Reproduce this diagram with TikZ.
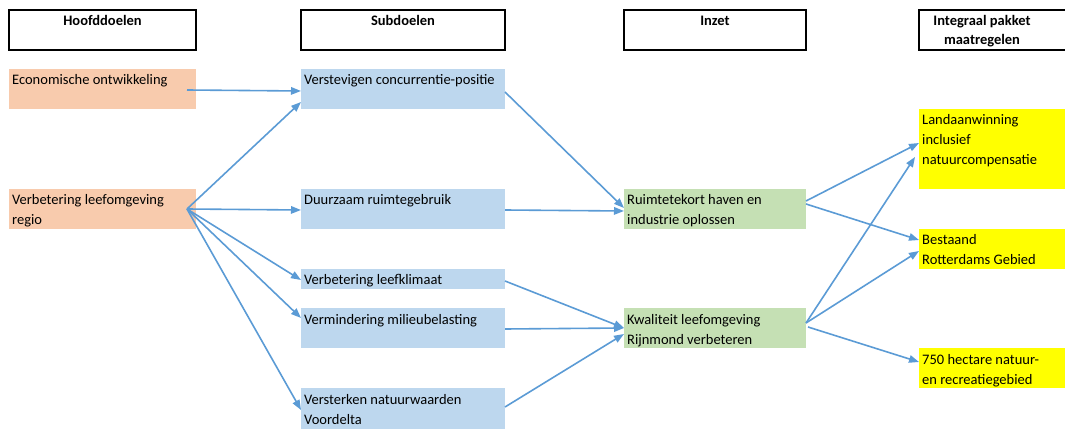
\documentclass[tikz,border=0pt]{standalone}
\usepackage{fontspec}
\setmainfont{Carlito}
\usetikzlibrary{calc,arrows.meta}
\definecolor{orangefill}{HTML}{F8CBAD}
\definecolor{bluefill}{HTML}{BDD7EE}
\definecolor{greenfill}{HTML}{C5E0B4}
\definecolor{yellowfill}{HTML}{FFFF00}
\definecolor{arrowblue}{HTML}{5B9BD5}
\newcommand{\mltxt}[1]{\begin{tabular}[t]{@{}l@{}}#1\end{tabular}}
\tikzset{
  box/.style={rectangle, draw=none, inner sep=0pt, outer sep=0pt, anchor=north west},
  hdr/.style={rectangle, draw=black, line width=1.2pt, fill=white, inner sep=0pt, outer sep=0pt, anchor=north west},
  txt/.style={inner sep=0pt, anchor=base west, font=\fontsize{14.5}{20}\selectfont},
  htxt/.style={inner sep=0pt, anchor=base, font=\fontsize{14.5}{20}\selectfont\bfseries},
  arr/.style={draw=arrowblue, line width=1.6pt, -{Triangle[length=10pt,width=7.5pt]}},
}
\begin{document}
\begin{tikzpicture}[x=1pt,y=-1pt]
\useasboundingbox (0,0) rectangle (1065,430);
\clip (0,0) rectangle (1065,430);
% headers
\node[hdr, minimum width=187pt, minimum height=40pt] (h1) at (9,10) {};
\node[hdr, minimum width=204pt, minimum height=40pt] (h2) at (301,10) {};
\node[hdr, minimum width=182pt, minimum height=40pt] (h3) at (624,10) {};
\node[hdr, minimum width=160pt, minimum height=40pt] (h4) at (919,10) {};
\node[htxt] (h1t) at ($(h1.north)+(0,16)$) {Hoofddoelen};
\node[htxt] (h2t) at ($(h2.north)+(0,16)$) {Subdoelen};
\node[htxt] (h3t) at ($(h3.north)+(0,16)$) {Inzet};
\node[htxt] (h4t) at (982,26) {Integraal pakket};
\node[htxt] (h4u) at (982,45) {maatregelen};
% orange
\node[box, fill=orangefill, minimum width=187pt, minimum height=40pt] (eco) at (9,69) {};
\node[box, fill=orangefill, minimum width=187pt, minimum height=40pt] (reg) at (9,189) {};
% blue
\node[box, fill=bluefill, minimum width=204pt, minimum height=40pt] (ver) at (301,69) {};
\node[box, fill=bluefill, minimum width=204pt, minimum height=40pt] (duu) at (301,189) {};
\node[box, fill=bluefill, minimum width=204pt, minimum height=20pt] (klim) at (301,269) {};
\node[box, fill=bluefill, minimum width=204pt, minimum height=40pt] (mil) at (301,308) {};
\node[box, fill=bluefill, minimum width=204pt, minimum height=41pt] (nat) at (301,388) {};
% green
\node[box, fill=greenfill, minimum width=182pt, minimum height=40pt] (rui) at (624,189) {};
\node[box, fill=greenfill, minimum width=182pt, minimum height=40pt] (kwa) at (624,308) {};
% yellow
\node[box, fill=yellowfill, minimum width=160pt, minimum height=80pt] (land) at (919,109) {};
\node[box, fill=yellowfill, minimum width=160pt, minimum height=40pt] (best) at (919,229) {};
\node[box, fill=yellowfill, minimum width=160pt, minimum height=40pt] (hect) at (919,348) {};
% texts
\node[txt] (ecot) at ($(eco.north west)+(3,16)$) {Economische ontwikkeling};
\node[txt] (regt) at ($(reg.north west)+(3,16)$) {\mltxt{Verbetering leefomgeving\\regio}};
\node[txt] (vert) at ($(ver.north west)+(3,16)$) {Verstevigen concurrentie-positie};
\node[txt] (duut) at ($(duu.north west)+(3,16)$) {Duurzaam ruimtegebruik};
\node[txt] (klimt) at ($(klim.north west)+(3,15)$) {Verbetering leefklimaat};
\node[txt] (milt) at ($(mil.north west)+(3,16)$) {Vermindering milieubelasting};
\node[txt] (natt) at ($(nat.north west)+(3,16)$) {\mltxt{Versterken natuurwaarden\\Voordelta}};
\node[txt] (ruit) at ($(rui.north west)+(3,16)$) {\mltxt{Ruimtetekort haven en\\industrie oplossen}};
\node[txt] (kwat) at ($(kwa.north west)+(3,16)$) {\mltxt{Kwaliteit leefomgeving\\Rijnmond verbeteren}};
\node[txt] (landt) at ($(land.north west)+(3,16)$) {\mltxt{Landaanwinning\\inclusief\\natuurcompensatie}};
\node[txt] (bestt) at ($(best.north west)+(3,16)$) {\mltxt{Bestaand\\Rotterdams Gebied}};
\node[txt] (hectt) at ($(hect.north west)+(3,16)$) {\mltxt{750 hectare natuur-\\en recreatiegebied}};
% arrows
\draw[arr] ($(eco.north west)+(178,21)$) -- ($(ver.north west)+(0,22)$);
\coordinate (regout) at ($(reg.north west)+(178,20)$);
\draw[arr] (regout) -- ($(ver.north west)+(0,33)$);
\draw[arr] (regout) -- ($(duu.north west)+(0,21)$);
\draw[arr] (regout) -- ($(klim.north west)+(0,11)$);
\draw[arr] (regout) -- ($(mil.north west)+(0,10)$);
\draw[arr] (regout) -- ($(nat.north west)+(0,22)$);
\draw[arr] ($(ver.north east)+(0,23)$) -- ($(rui.north west)+(0,19)$);
\draw[arr] ($(duu.north east)+(0,21)$) -- ($(rui.north west)+(0,22)$);
\draw[arr] ($(klim.north east)+(0,12)$) -- ($(kwa.north west)+(0,20)$);
\draw[arr] ($(mil.north east)+(0,21)$) -- ($(kwa.north west)+(0,20)$);
\draw[arr] ($(nat.north east)+(0,19)$) -- ($(kwa.north west)+(0,26)$);
\draw[arr] ($(rui.north east)+(0,12)$) -- ($(land.north west)+(0,34)$);
\draw[arr] ($(rui.north east)+(0,15)$) -- ($(best.north west)+(0,11)$);
\coordinate (kwaout) at ($(kwa.north east)+(0,15)$);
\draw[arr] (kwaout) -- ($(land.north west)+(-4,48)$);
\draw[arr] (kwaout) -- ($(best.north west)+(0,22)$);
\draw[arr] ($(kwa.north east)+(2,19)$) -- ($(hect.north west)+(0,14)$);
\end{tikzpicture}
\end{document}
